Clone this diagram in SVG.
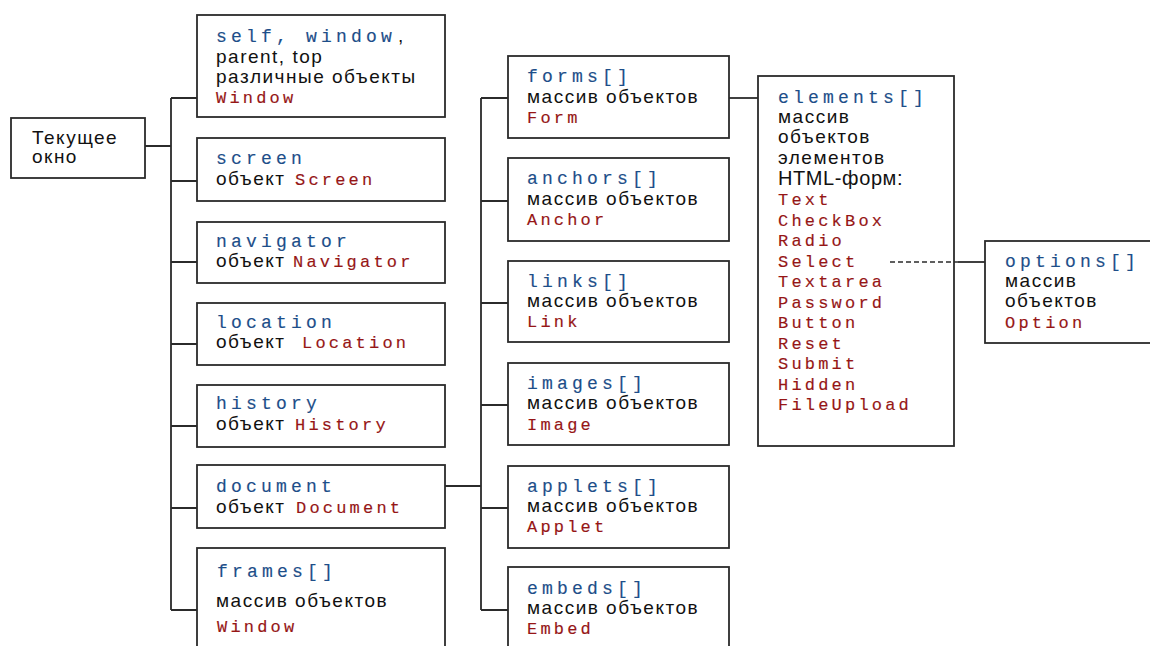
<svg xmlns="http://www.w3.org/2000/svg" width="1150" height="646" viewBox="0 0 1150 646">
<defs>
<style>
.box{fill:#fff;stroke:#2b2b2b;stroke-width:1.8}
.ln{fill:none;stroke:#2b2b2b;stroke-width:1.8}
.dash{fill:none;stroke:#2b2b2b;stroke-width:1.5;stroke-dasharray:5 3}
.b{font-family:"Liberation Mono","Courier New",monospace;font-size:18px;letter-spacing:4.2px;fill:#1d4e89;stroke:#1d4e89;stroke-width:0.15px}
.r{font-family:"Liberation Mono","Courier New",monospace;font-size:17px;letter-spacing:3.2px;fill:#961616;stroke:#961616;stroke-width:0.15px}
.k{font-family:"Liberation Sans",Arial,sans-serif;font-size:19px;letter-spacing:1.5px;fill:#111}
.kh{font-family:"Liberation Sans",Arial,sans-serif;font-size:20px;letter-spacing:0.6px;fill:#111}
</style>
</defs>
<rect width="1150" height="646" fill="#fff"/>
<g id="current">
<rect class="box" x="11" y="118" width="134" height="60"/>
<text class="k" x="32" y="144">Текущее</text>
<text class="k" x="32" y="163">окно</text>
</g>
<g id="self">
<rect class="box" x="197" y="15" width="248" height="102"/>
<text class="b" x="216" y="42">self, window</text>
<text class="k" x="398" y="42">,</text>
<text class="k" x="216" y="63">parent, top</text>
<text class="k" x="216" y="83">различные объекты</text>
<text class="r" x="216" y="103">Window</text>
</g>
<g id="screen">
<rect class="box" x="197" y="138" width="248" height="63"/>
<text class="b" x="216" y="164">screen</text>
<text class="k" x="216" y="185">объект</text>
<text class="r" x="295" y="185">Screen</text>
</g>
<g id="navigator">
<rect class="box" x="197" y="222" width="248" height="61"/>
<text class="b" x="216" y="247">navigator</text>
<text class="k" x="216" y="267">объект</text>
<text class="r" x="293" y="267">Navigator</text>
</g>
<g id="location">
<rect class="box" x="197" y="303" width="248" height="62"/>
<text class="b" x="216" y="328">location</text>
<text class="k" x="216" y="348">объект</text>
<text class="r" x="302" y="348">Location</text>
</g>
<g id="history">
<rect class="box" x="197" y="385" width="248" height="62"/>
<text class="b" x="216" y="409">history</text>
<text class="k" x="216" y="430">объект</text>
<text class="r" x="295" y="430">History</text>
</g>
<g id="document">
<rect class="box" x="197" y="465" width="248" height="63"/>
<text class="b" x="216" y="492">document</text>
<text class="k" x="216" y="513">объект</text>
<text class="r" x="296" y="513">Document</text>
</g>
<g id="frames">
<rect class="box" x="197" y="548" width="248" height="110"/>
<text class="b" x="217" y="577">frames[]</text>
<text class="k" x="216" y="607">массив объектов</text>
<text class="r" x="217" y="632">Window</text>
</g>
<g id="forms">
<rect class="box" x="508" y="56" width="221" height="82"/>
<text class="b" x="527" y="82">forms[]</text>
<text class="k" x="527" y="103">массив объектов</text>
<text class="r" x="527" y="123">Form</text>
</g>
<g id="anchors">
<rect class="box" x="508" y="158" width="221" height="83"/>
<text class="b" x="527" y="184">anchors[]</text>
<text class="k" x="527" y="205">массив объектов</text>
<text class="r" x="527" y="225">Anchor</text>
</g>
<g id="links">
<rect class="box" x="508" y="261" width="221" height="81"/>
<text class="b" x="527" y="287">links[]</text>
<text class="k" x="527" y="307">массив объектов</text>
<text class="r" x="527" y="327">Link</text>
</g>
<g id="images">
<rect class="box" x="508" y="363" width="221" height="82"/>
<text class="b" x="527" y="389">images[]</text>
<text class="k" x="527" y="409">массив объектов</text>
<text class="r" x="527" y="430">Image</text>
</g>
<g id="applets">
<rect class="box" x="508" y="466" width="221" height="82"/>
<text class="b" x="527" y="492">applets[]</text>
<text class="k" x="527" y="512">массив объектов</text>
<text class="r" x="527" y="532">Applet</text>
</g>
<g id="embeds">
<rect class="box" x="508" y="567" width="221" height="100"/>
<text class="b" x="527" y="594">embeds[]</text>
<text class="k" x="527" y="614">массив объектов</text>
<text class="r" x="527" y="634">Embed</text>
</g>
<g id="elements">
<rect class="box" x="758" y="76" width="196" height="370"/>
<text class="b" x="778" y="103">elements[]</text>
<text class="k" x="778" y="123">массив</text>
<text class="k" x="778" y="143">объектов</text>
<text class="k" x="778" y="164">элементов</text>
<text class="kh" x="778" y="185">HTML-форм:</text>
<text class="r" x="778" y="205">Text</text>
<text class="r" x="778" y="226">CheckBox</text>
<text class="r" x="778" y="246">Radio</text>
<text class="r" x="778" y="267">Select</text>
<text class="r" x="778" y="287">Textarea</text>
<text class="r" x="778" y="308">Password</text>
<text class="r" x="778" y="328">Button</text>
<text class="r" x="778" y="349">Reset</text>
<text class="r" x="778" y="369">Submit</text>
<text class="r" x="778" y="390">Hidden</text>
<text class="r" x="778" y="410">FileUpload</text>
</g>
<g id="options">
<rect class="box" x="985" y="241" width="180" height="102"/>
<text class="b" x="1005" y="267">options[]</text>
<text class="k" x="1005" y="287">массив</text>
<text class="k" x="1005" y="307">объектов</text>
<text class="r" x="1005" y="328">Option</text>
</g>
<g id="connectors">
<path class="ln" d="M145 146H171M171 98V610M171 98H197M171 181H197M171 262H197M171 344H197M171 426H197M171 508H197M171 610H197"/>
<path class="ln" d="M445 486H481M481 98V610M481 98H508M481 201H508M481 303H508M481 405H508M481 508H508M481 610H508"/>
<path class="ln" d="M729 98H758"/>
<path class="dash" d="M890 262H958"/>
<path class="ln" d="M958 262H985"/>
</g>
</svg>
